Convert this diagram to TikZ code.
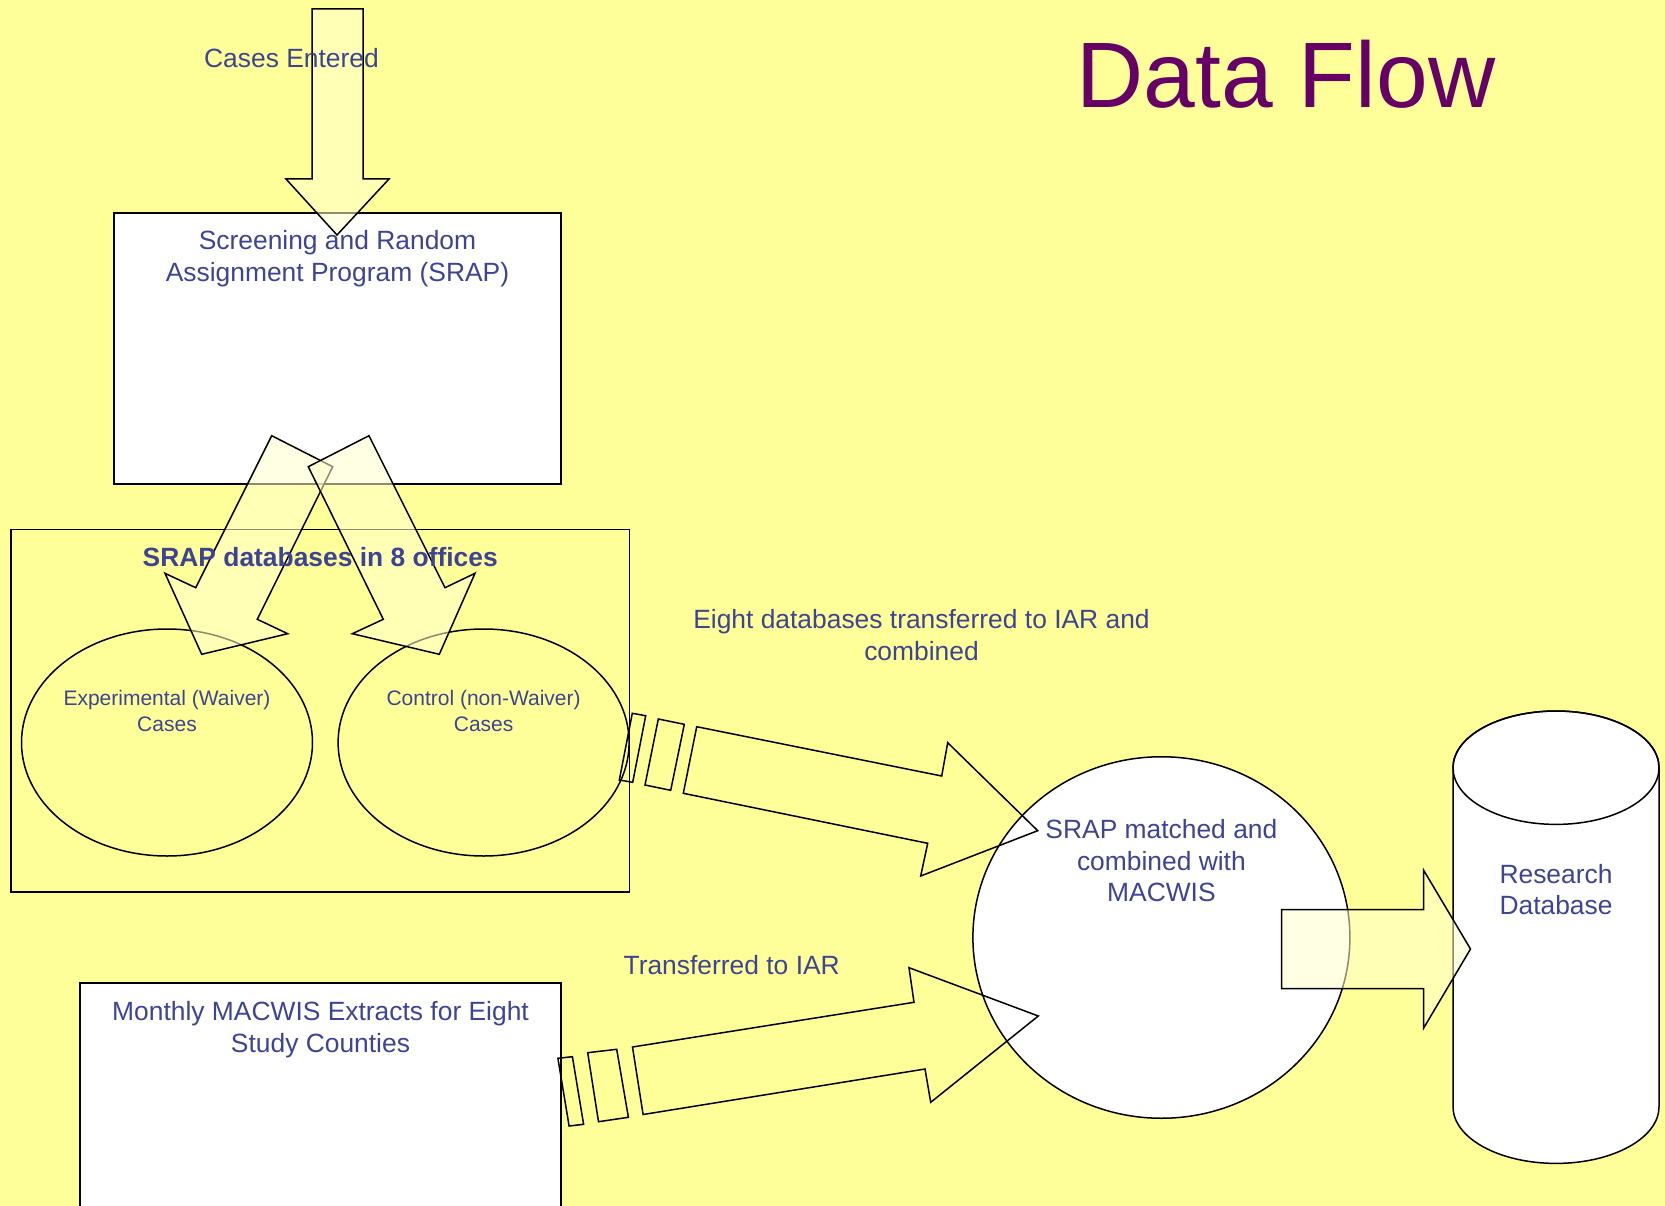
\documentclass[tikz,border=0pt]{standalone}
\usepackage{fontspec}
\setmainfont{Liberation Sans}
\usetikzlibrary{positioning,shapes.geometric}
\definecolor{slide}{HTML}{FFFF99}
\definecolor{ink}{HTML}{3D4494}
\definecolor{plum}{HTML}{660066}
\definecolor{pale}{HTML}{FFFFCC}
\begin{document}
\begin{tikzpicture}[x=1pt,y=-1pt,
  box/.style = {draw, line width=1.5pt, inner sep=0},
  oval/.style = {draw, ellipse, line width=1.5pt, inner sep=0},
  txt/.style = {inner sep=0, align=center, text=ink, font=\fontsize{26.4}{31.5}\selectfont},
  small/.style = {txt, font=\fontsize{21}{26}\selectfont},
  fat/.style = {draw, line width=1.5pt, fill=pale, fill opacity=0.55},
  thin/.style = {draw, line width=1.5pt},
  node distance=18pt]
\clip (0,0) rectangle (1665,1206);
\fill[slide] (0,0) rectangle (1665,1206);

\node[box, fill=white, minimum width=447pt, minimum height=271pt] (srap) at (337.5,348.5) {};
\node[box, minimum width=618.5pt, minimum height=362.5pt] (dbs) at (320.25,710.75) {};
\node[oval, minimum width=291pt, minimum height=227pt] (exp) at (167,742.5) {};
\node[oval, minimum width=291pt, minimum height=227pt] (ctl) at (483.6,742.5) {};
\node[oval, fill=white, minimum width=377pt, minimum height=361.5pt] (match) at (1161.4,937.5) {};
\node[box, fill=white, minimum width=481pt, minimum height=260pt] (monthly) at (320.5,1113) {};
\draw[thin, fill=white] (1453,767.7) -- (1453,1106.7) arc[start angle=180, end angle=360, x radius=103pt, y radius=56.7pt]
  -- (1659,767.7) arc[start angle=0, end angle=180, x radius=103pt, y radius=56.7pt] -- cycle;
\draw[thin] (1556,767.7) ellipse [x radius=103pt, y radius=56.7pt];

\draw[fat] (312,9) -- (363,9) -- (363,179) -- (389,179) -- (337,235) -- (286,179) -- (312,179) -- cycle;
\draw[fat] (271.7,435.7) -- (332.7,466.7) -- (257.3,619.3) -- (287.7,633.7) -- (201.7,654.3) -- (165,573.3) -- (195.7,587.7) -- cycle;
\draw[fat] (369,435.7) -- (308.3,466.7) -- (383.3,619.3) -- (352.3,633.7) -- (439.3,654.3) -- (475,573.3) -- (445,587.7) -- cycle;
\draw[thin] (632.3,713.3) -- (645.7,715.7) -- (632.7,782.3) -- (619.3,780) -- cycle;
\draw[thin] (658.3,719) -- (684.3,724.3) -- (670.7,790.3) -- (645,785) -- cycle;
\draw[thin] (696.7,726.7) -- (941.7,776) -- (947.7,742.7) -- (1037.7,830.7) -- (920.7,876) -- (927.7,843.3) -- (683.3,793.3) -- cycle;
\draw[thin] (557.9,1058.3) -- (572.4,1056.7) -- (583.6,1124.3) -- (569.1,1126) -- cycle;
\draw[thin] (587.7,1052.7) -- (616.7,1049.3) -- (628.4,1117.3) -- (598.5,1121.7) -- cycle;
\draw[thin] (632.5,1047) -- (914,1002.3) -- (909,967.7) -- (1038.3,1016) -- (930.7,1102.3) -- (925,1069) -- (643.1,1114.5) -- cycle;
\draw[fat] (1281.5,909.5) -- (1423.5,909.5) -- (1423.5,870) -- (1470.5,949) -- (1423.5,1028.3) -- (1423.5,988.7) -- (1281.5,988.7) -- cycle;

\node[txt, text=plum, font=\fontsize{93}{100}\selectfont] (head) at (1286,74) {Data Flow};
\node[txt] (entered) at (291.5,58) {Cases Entered};
\node[txt, below=18pt of srap.north] (sraptext) {Screening and Random\\Assignment Program (SRAP)};
\node[txt, font=\fontsize{26.4}{31.5}\selectfont\bfseries, below=18pt of dbs.north] (dbstext) {SRAP databases in 8 offices};
\node[small] (exptext) at (167,711) {Experimental (Waiver)\\Cases};
\node[small] (ctltext) at (483.6,711) {Control (non-Waiver)\\Cases};
\node[txt] (eight) at (921.5,635) {Eight databases transferred to IAR and\\combined};
\node[txt, below=19pt of monthly.north] (monthlytext) {Monthly MACWIS Extracts for Eight\\Study Counties};
\node[txt] (transfer) at (731.7,965) {Transferred to IAR};
\node[txt] (matchtext) at (1161.4,861) {SRAP matched and\\combined with\\MACWIS};
\node[txt] (dbtext) at (1556,889.7) {Research\\Database};
\end{tikzpicture}
\end{document}
